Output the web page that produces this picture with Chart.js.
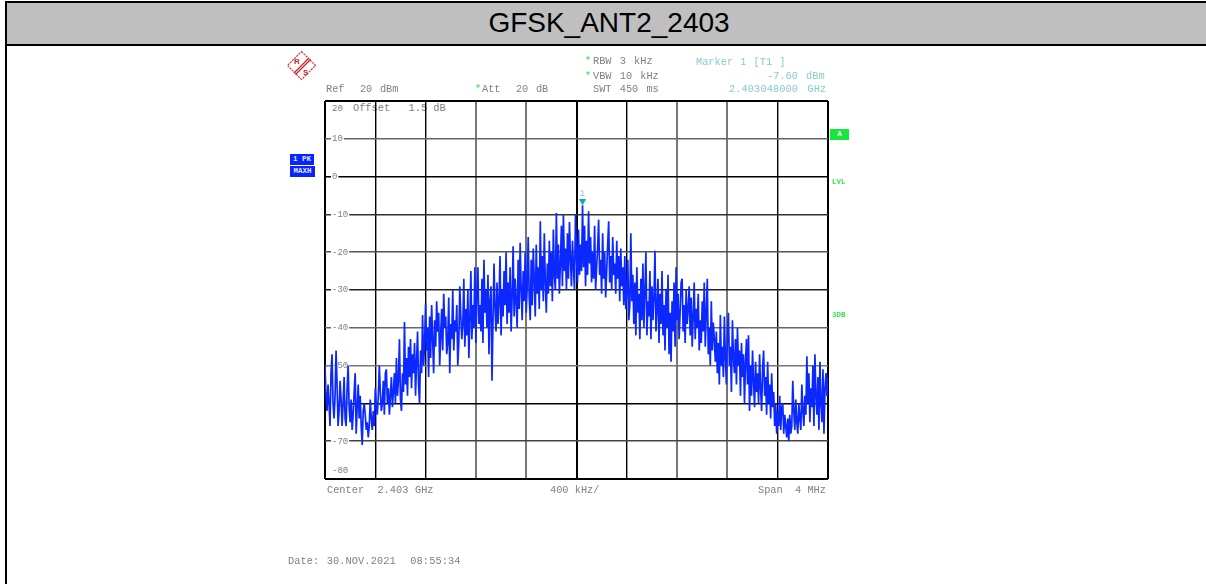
<!DOCTYPE html>
<html><head><meta charset="utf-8">
<script src="https://cdn.jsdelivr.net/npm/chart.js@4"></script>
<style>
html,body{margin:0;padding:0;background:#fff;overflow:hidden}
#page{position:relative;width:1206px;height:584px;overflow:hidden}
#band{position:absolute;left:5px;top:1px;width:1201px;height:45px;box-sizing:border-box;background:#bfbfbf;border-top:2px solid #000;border-bottom:2px solid #000;padding-left:7px;
 font:28px "Liberation Sans",Arial,sans-serif;text-align:center;line-height:40px;color:#000}
#lv{position:absolute;left:5px;top:1px;width:2px;height:583px;background:#000}
canvas{position:absolute;left:0;top:0}
.t{position:absolute;font:10.3px/11px "Liberation Mono",monospace;color:#808080;white-space:pre}
.w{word-spacing:1.5px}
.x{word-spacing:2px}
.c{color:#86cccc}
.g{color:#33e84a}
.b{position:absolute;background:#0a24ff;color:#dfe6ff;font:bold 7.5px/10px "Liberation Mono",monospace;text-align:center}
.a{position:absolute;background:#17e63c;color:#fff;font:bold 7px/11px "Liberation Mono",monospace;text-align:center}
.l{position:absolute;font:bold 7.5px/9px "Liberation Mono",monospace;color:#33e84a}
</style></head><body>
<div id="page">
<div id="band">GFSK_ANT2_2403</div>
<div id="lv"></div>
<div class="t" style="left:353px;top:103px">Offset   1.5 dB</div>
<div class="t" style="left:332px;top:104px;font-size:9px">20</div>
<div class="t" style="left:332px;top:466px;font-size:9px">-80</div>
<canvas id="c" width="1206" height="584"></canvas>
<svg style="position:absolute;left:286px;top:50px" width="31" height="31" viewBox="0 0 31 31">
<polygon points="15.5,1.5 29.5,15.5 15.5,29.5 1.5,15.5" fill="#fff" stroke="#d0404a" stroke-width="1.2" stroke-dasharray="2.2 0.8"/>
<line x1="8" y1="23" x2="23" y2="8" stroke="#c8202a" stroke-width="1.2"/>
<line x1="9.5" y1="24.5" x2="24.5" y2="9.5" stroke="#c8202a" stroke-width="1.2"/>
<text x="8" y="14" font-family="Liberation Sans" font-weight="bold" font-size="8" fill="#c8202a">R</text>
<text x="17" y="25" font-family="Liberation Sans" font-weight="bold" font-size="8" fill="#c8202a">S</text>
</svg>
<div class="t w" style="left:326px;top:84px">Ref  20 dBm</div>
<div class="t w" style="left:482px;top:84px">Att  20 dB</div>
<div class="t g" style="left:475px;top:84px">*</div>
<div class="t g" style="left:585px;top:56px">*</div>
<div class="t g" style="left:585px;top:71px">*</div>
<div class="t x" style="left:593px;top:56px">RBW 3 kHz</div>
<div class="t x" style="left:593px;top:71px">VBW 10 kHz</div>
<div class="t x" style="left:593px;top:84px">SWT 450 ms</div>
<div class="t c" style="left:696px;top:57px;word-spacing:1px">Marker 1 [T1 ]</div>
<div class="t c" style="left:767px;top:71px;word-spacing:2px">-7.60 dBm</div>
<div class="t c" style="left:729px;top:84px;word-spacing:3px;letter-spacing:.1px">2.403048000 GHz</div>
<div class="t x" style="left:327px;top:485px;word-spacing:.5px">Center  2.403 GHz</div>
<div class="t" style="left:550px;top:485px">400 kHz/</div>
<div class="t" style="left:758px;top:485px">Span  4 MHz</div>
<div class="t" style="left:288px;top:556px;word-spacing:1px;letter-spacing:.1px">Date: 30.NOV.2021  08:55:34</div>
<div class="b" style="left:290px;top:154px;width:24px;height:11px">1 PK</div>
<div class="b" style="left:290px;top:166px;width:25px;height:11px">MAXH</div>
<div class="a" style="left:830px;top:129px;width:19px;height:11px">A</div>
<div class="l" style="left:832px;top:178px">LVL</div>
<div class="l" style="left:832px;top:311px">3DB</div>
</div>
<script>
const frequencyStartMHz = 2401;
const frequencyStepMHz = 0.008;
const yTickLabels = [20,10,0,-10,-20,-30,-40,-50,-60,-70,-80];
const markerFreqMHz = [2403.048];
const markerLevel = [-7.6];
const traceLevels = [
-50,-58,-62,-55,-60,-66,-52,-47,-60,-64,-58,-46,-55,-66,-62,-54,-59,-66,-60,-53,-64,-66,-56,-50,-61,-65,-59,-67,-63,-57,-52,-68,-61,-55,-64,-58,-66,-71,-62,-60,-63,-67,-65,-69,-66,-59,-64,-67,-62,-66,
-56,-61,-63,-58,-50,-57,-62,-60,-54,-63,-52,-51,-60,-56,-63,-58,-53,-61,-57,-52,-60,-48,-58,-54,-43,-59,-62,-52,-57,-38.5,-55,-48,-58,-45,-53,-43,-56,-47,-52,-44,-58,-49,-41,-55,-60,-46,-52,-36.6,-50,-44,
-33.5,-46,-40,-53,-37,-48,-34,-43,-52,-38,-45,-33,-41,-36,-50,-42,-35,-46,-31,-40,-37,-47,-44,-32,-52,-39,-43,-30,-46,-38,-41,-34,-50,-44,-29,-37,-43,-39,-27,-45,-35,-42,-30,-48,-38,-25,-43,-34,-40,-24,
-44,-31,-24,-39,-34,-41,-27,-44,-22,-36,-30,-40,-26,-47,-33,-29,-54,-38,-23,-35,-41,-28,-39,-33,-21,-42,-30,-37,-25,-34,-20,-39,-28,-36,-24,-41,-32,-18.4,-37,-27,-33,-40,-22,-35,-17.5,-30,-38,-25,-33,-20,
-36,-29,-16,-32,-38,-22,-34,-19,-27,-37,-18,-31,-24,-35,-11.8,-30,-21,-33,-15,-28,-36,-23,-31,-17,-29,-20,-33,-14,-26,-30,-9.6,-27,-18,-31,-23,-13,-29,-10,-25,-19,-30,-15,-27,-12,-22,-29,-17,-24,-30,-10,
-21,-28,-14,-26,-18,-25,-7.6,-24,-13,-29,-17,-26,-9.2,-23,-16,-28,-20,-27,-13,-30,-24,-19,-11.4,-26,-22,-31,-15,-27,-20,-32,-25,-18,-11.8,-28,-21,-30,-16,-26,-23,-31,-17,-27,-21,-33,-19,-29,-24,-34,-21,-35,
-30,-22,-38,-34,-15,-33,-26,-39,-28,-42,-24,-36,-31,-43,-27,-38,-23,-40,-30,-20,-42,-33,-37,-25,-43,-29,-38,-32,-19.6,-41,-35,-27,-44,-31,-39,-25,-42,-34,-46,-30,-40,-26,-47,-36,-49,-33,-41,-28,-45,-24,
-38,-31,-43,-36,-28,-27,-41,-34,-44,-30,-39,-35,-29,-42,-32,-45,-37,-28,-43,-35,-40,-31,-46,-38,-44,-33,-41,-28,-45,-36,-27,-47,-40,-50,-33,-46,-38.6,-43,-49,-41,-52,-44,-55,-36.6,-50,-45,-53,-37,-48,-55,
-42,-36,-50,-45,-57,-38,-48,-52,-43,-55,-40,-50,-46,-58,-44,-53,-47,-60,-49,-43,-55,-42,-62,-50,-58,-46,-54,-61,-49,-57,-52,-60,-47,-56,-62,-51,-46,-58,-53,-63,-49,-60,-55,-64,-52,-61,-57,-66,-60,-68,
-62,-66,-58,-67,-61,-60,-68,-63,-66,-69,-64,-70,-63,-68,-66,-54,-62,-67,-59,-65,-68,-60,-64,-67,-55,-62,-66,-58,-63,-47.5,-60,-52,-65,-56,-61,-50,-66,-47,-58,-63,-53,-67,-49,-60,-65,-51,-68,-56,-52,-58,-53
];
const traceFreqs = traceLevels.map((_, i) => +(frequencyStartMHz + i * frequencyStepMHz).toFixed(3));
const vGridColors = ['#000','#000','#000','#777','#777','#000','#000','#777','#777','#000','#000'];
const hGridColors = ['#000','#666','#000','#333','#555','#222','#666','#777','#000','#444','#000'];
const markerGlyph = document.createElement('canvas');
markerGlyph.width = 7; markerGlyph.height = 12;
(g => { g.fillStyle = '#12a8a8'; g.beginPath(); g.moveTo(0,0); g.lineTo(7,0); g.lineTo(3.5,6); g.closePath(); g.fill(); })(markerGlyph.getContext('2d'));
new Chart(document.getElementById('c'), {
  type: 'line',
  data: { datasets: [
    { data: traceFreqs.map((x, i) => ({x, y: traceLevels[i]})), borderColor: '#0a28ff', borderWidth: 1.7, borderJoinStyle: 'bevel', pointRadius: 0, tension: 0, order: 2 },
    { data: markerFreqMHz.map((x, i) => ({x, y: markerLevel[i]})), showLine: false, pointStyle: markerGlyph, pointRadius: 4, order: 1 }
  ]},
  options: {
    responsive: false, animation: false, events: [],
    layout: { padding: { left: 325, right: 378, top: 101, bottom: 105 } },
    plugins: { legend: { display: false }, tooltip: { enabled: false }, title: { display: false } },
    scales: {
      x: { type: 'linear', min: 2401, max: 2405, afterFit: s => { s.height = 0; },
        ticks: { stepSize: 0.4, display: false },
        border: { display: false },
        grid: { drawTicks: false, color: c => vGridColors[c.index] || '#000',
                lineWidth: c => (c.index === 0 || c.index === 10 || c.index === 5) ? 2 : (vGridColors[c.index] === '#777' ? 2 : 1.4) } },
      y: { type: 'linear', min: -80, max: 20, afterFit: s => { s.width = 0; },
        afterBuildTicks: s => { s.ticks = yTickLabels.map(v => ({value: v})); },
        border: { display: false },
        ticks: { z: -1, mirror: true, padding: 7, color: '#808080', font: { family: 'Liberation Mono', size: 9 },
                 showLabelBackdrop: c => c.tick.value !== 20 && c.tick.value !== -80, backdropColor: '#fff', backdropPadding: {top:0,bottom:0,left:1,right:1},
                 callback: v => (v === 20 || v === -80) ? '' : String(v) },
        grid: { drawTicks: false, color: c => hGridColors[c.index] || '#000',
                lineWidth: c => (c.index === 0 || c.index === 10) ? 2 : 1.6 } }
    }
  },
  plugins: [{
    id: 'markerLabel',
    afterDatasetsDraw(chart) {
      const {ctx, scales:{x, y}} = chart;
      ctx.save();
      ctx.font = '9px "Liberation Mono"';
      ctx.fillStyle = '#86cccc';
      ctx.textAlign = 'center';
      ctx.fillText('1', x.getPixelForValue(markerFreqMHz[0]), y.getPixelForValue(markerLevel[0]) - 9);
      ctx.restore();
    }
  }]
});
</script>
</body></html>
